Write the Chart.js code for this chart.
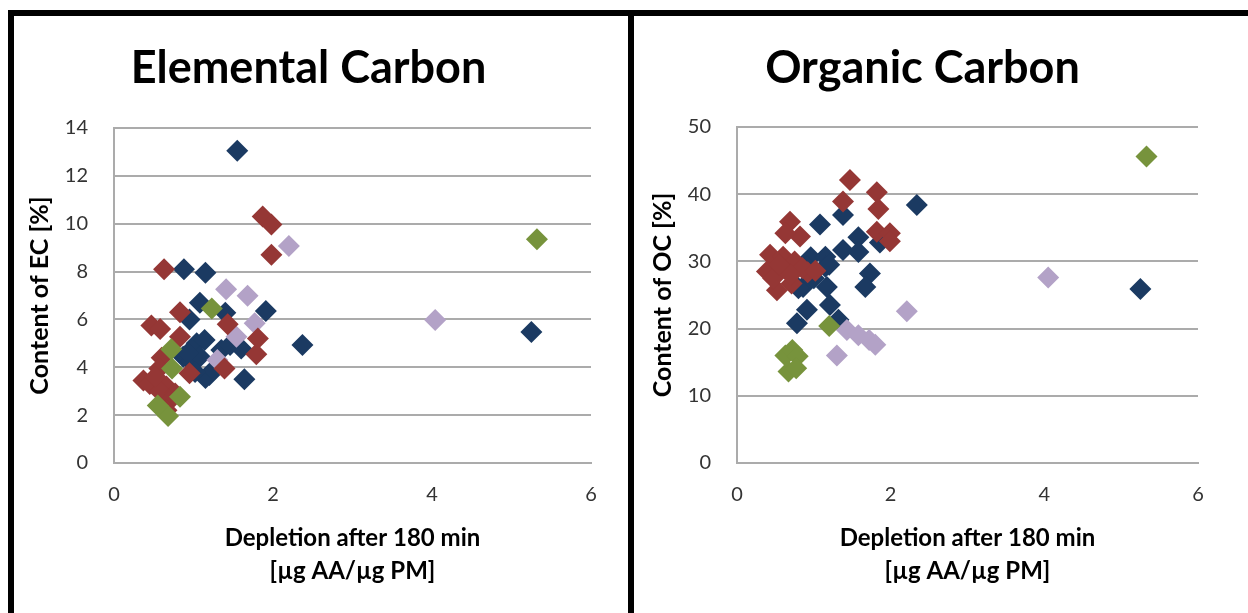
<!DOCTYPE html>
<html>
<head>
<meta charset="utf-8">
<title>EC / OC vs depletion</title>
<script src="https://cdn.jsdelivr.net/npm/chart.js@4.4.1/dist/chart.umd.min.js"></script>
<style>
body { margin: 0; background: #fff; width: 1248px; height: 613px; overflow: hidden; position: relative; }
.bar { position: absolute; background: #000; }
.panel { position: absolute; top: 16px; }
</style>
</head>
<body>
<div class="panel" style="left:14px"><canvas id="ecChart" width="588" height="597"></canvas></div>
<div class="panel" style="left:634px"><canvas id="ocChart" width="576" height="597"></canvas></div>
<div class="bar" style="left:8px;top:10px;width:1240px;height:6px"></div>
<div class="bar" style="left:8px;top:10px;width:6px;height:603px"></div>
<div class="bar" style="left:628px;top:10px;width:6px;height:603px"></div>

<script>
// depletion [µg AA/µg PM] vs carbon content [%], four sample groups per panel
var ecNavy = [[1.55,13.05],[0.88,8.1],[1.15,7.95],[1.91,6.35],[2.37,4.93],[5.25,5.47],[1.08,6.7],[1.40,6.28],
	[0.95,6.0],[1.04,5.0],[1.14,5.14],[0.87,4.44],[0.97,4.23],[1.08,4.44],[1.20,3.68],[1.15,3.55],[1.35,4.72],
	[1.46,4.93],[1.60,4.79],[1.64,3.5],[0.93,4.6],[1.25,3.9],[1.02,3.8]];
var ecBrick = [[0.63,8.1],[1.87,10.3],[1.98,9.97],[1.98,8.7],[0.83,6.3],[0.47,5.75],[0.58,5.6],[0.83,5.28],
	[1.43,5.8],[1.81,5.2],[1.79,4.55],[0.60,4.4],[0.57,3.95],[0.95,3.75],[1.39,3.95],[0.37,3.45],[0.45,3.3],
	[0.66,3.2],[0.58,2.98],[0.77,2.9],[0.70,2.6],[0.66,2.2],[0.52,3.6]];
var ecOlive = [[5.32,9.35],[1.23,6.46],[0.72,4.75],[0.73,3.95],[0.68,1.96],[0.55,2.4],[0.83,2.77]];
var ecLilac = [[2.20,9.07],[1.41,7.26],[1.68,6.99],[4.04,5.98],[1.77,5.84],[1.54,5.28],[1.30,4.30]];

var ocNavy = [[1.08,35.5],[1.38,36.9],[1.58,33.6],[1.38,31.7],[1.58,31.4],[2.34,38.4],[0.96,30.6],[1.15,30.7],
	[1.15,29.2],[1.73,28.2],[1.86,32.8],[1.67,26.2],[0.91,29.2],[1.17,26.2],[0.86,26.2],[0.80,26.0],[0.91,22.8],
	[0.78,20.8],[1.21,23.5],[1.32,21.3],[5.25,25.9],[1.0,27.5],[1.2,29.5]];
var ocBrick = [[1.47,42.1],[1.82,40.3],[1.38,38.9],[1.84,37.8],[1.82,34.4],[1.99,34.2],[1.99,33.0],[0.69,35.9],
	[0.82,33.7],[0.63,34.2],[0.43,31.0],[0.60,30.7],[0.65,28.7],[0.39,28.5],[0.92,28.4],[0.52,25.7],[0.71,26.7],
	[0.47,27.5],[0.75,30.0],[0.85,29.0],[0.55,29.5],[0.70,28.0],[1.02,28.6]];
var ocOlive = [[5.33,45.6],[1.20,20.4],[0.63,16.0],[0.72,16.8],[0.79,15.9],[0.67,13.6],[0.77,14.1]];
var ocLilac = [[4.05,27.6],[2.21,22.6],[1.43,19.8],[1.58,19.0],[1.72,18.3],[1.80,17.6],[1.30,16.0]];

var xTicks = [0, 2, 4, 6];
var ecTicks = [0, 2, 4, 6, 8, 10, 12, 14];
var ocTicks = [0, 10, 20, 30, 40, 50];

var navy = '#1B3A62', brick = '#953735', olive = '#77933C', lilac = '#B3A2C7';
var gridColor = '#ABABAB';

Chart.defaults.font.family = 'Lato';

function toPoints(pairs){
	var pts = [];
	for (var i = 0; i < pairs.length; i++){
		pts.push({x: pairs[i][0], y: pairs[i][1]});
	};
	return pts;
};

function makeSet(pairs, color){
	return {
		data: toPoints(pairs),
		pointStyle: 'rectRot',
		pointRadius: 11,
		pointHoverRadius: 11,
		backgroundColor: color,
		borderWidth: 0,
		showLine: false
	};
};

// leftPad + yWidth fixes the plot's left edge; leftPad also moves the centred title
function createScatterPlot(idCanvas, title, yTitle, yTicks, sets, leftPad, yWidth, yTitlePad, titleBottom, rightPad){

	var context = document.getElementById(idCanvas).getContext('2d');

	return new Chart(context, {
		type: 'scatter',
		data: {datasets: sets},
		options: {
			responsive: false,
			animation: false,
			events: [],
			layout: {padding: {left: leftPad, right: rightPad, top: 0, bottom: 0}},
			plugins: {
				legend: {display: false},
				tooltip: {enabled: false},
				title: {
					display: true, text: title, color: '#000',
					font: {size: 45, weight: 'bold', lineHeight: 1.2},
					padding: {top: 25, bottom: titleBottom}
				}
			},
			scales: {
				x: {
					type: 'linear', min: xTicks[0], max: xTicks[xTicks.length - 1],
					afterBuildTicks: function(s){ s.ticks = xTicks.map(function(v){ return {value: v}; }); },
					// tick marks are not drawn (grid hidden), tickLength just spaces the labels
					ticks: {padding: 0, color: '#333', font: {size: 20}},
					grid: {display: false, drawTicks: true, tickLength: 20},
					border: {display: true, color: gridColor, width: 2},
					title: {
						display: true, text: ['Depletion after 180 min', '[\u00b5g AA/\u00b5g PM]'], color: '#000',
						font: {size: 24, weight: 'bold', lineHeight: 1.375},
						padding: {top: 0, bottom: 25}
					},
					afterFit: function(s){ s.height = 150; }
				},
				y: {
					type: 'linear', min: yTicks[0], max: yTicks[yTicks.length - 1],
					afterBuildTicks: function(s){ s.ticks = yTicks.map(function(v){ return {value: v}; }); },
					ticks: {padding: 26, color: '#333', font: {size: 20}},
					grid: {color: gridColor, lineWidth: 2, drawTicks: false},
					border: {display: true, color: gridColor, width: 2},
					title: {
						display: true, text: yTitle, color: '#000',
						font: {size: 25, weight: 'bold', lineHeight: 1.2},
						padding: {top: yTitlePad, bottom: 0}
					},
					afterFit: function(s){ s.width = yWidth; }
				}
			}
		}
	});
};

// first dataset ends up on top
createScatterPlot('ecChart', 'Elemental Carbon', 'Content of EC [%]', ecTicks,
	[makeSet(ecOlive, olive), makeSet(ecBrick, brick), makeSet(ecLilac, lilac), makeSet(ecNavy, navy)],
	11, 89, 0, 33, 10);

createScatterPlot('ocChart', 'Organic Carbon', 'Content of OC [%]', ocTicks,
	[makeSet(ocOlive, olive), makeSet(ocBrick, brick), makeSet(ocLilac, lilac), makeSet(ocNavy, navy)],
	13, 90, 1, 32, 12);
</script>
</body>
</html>
